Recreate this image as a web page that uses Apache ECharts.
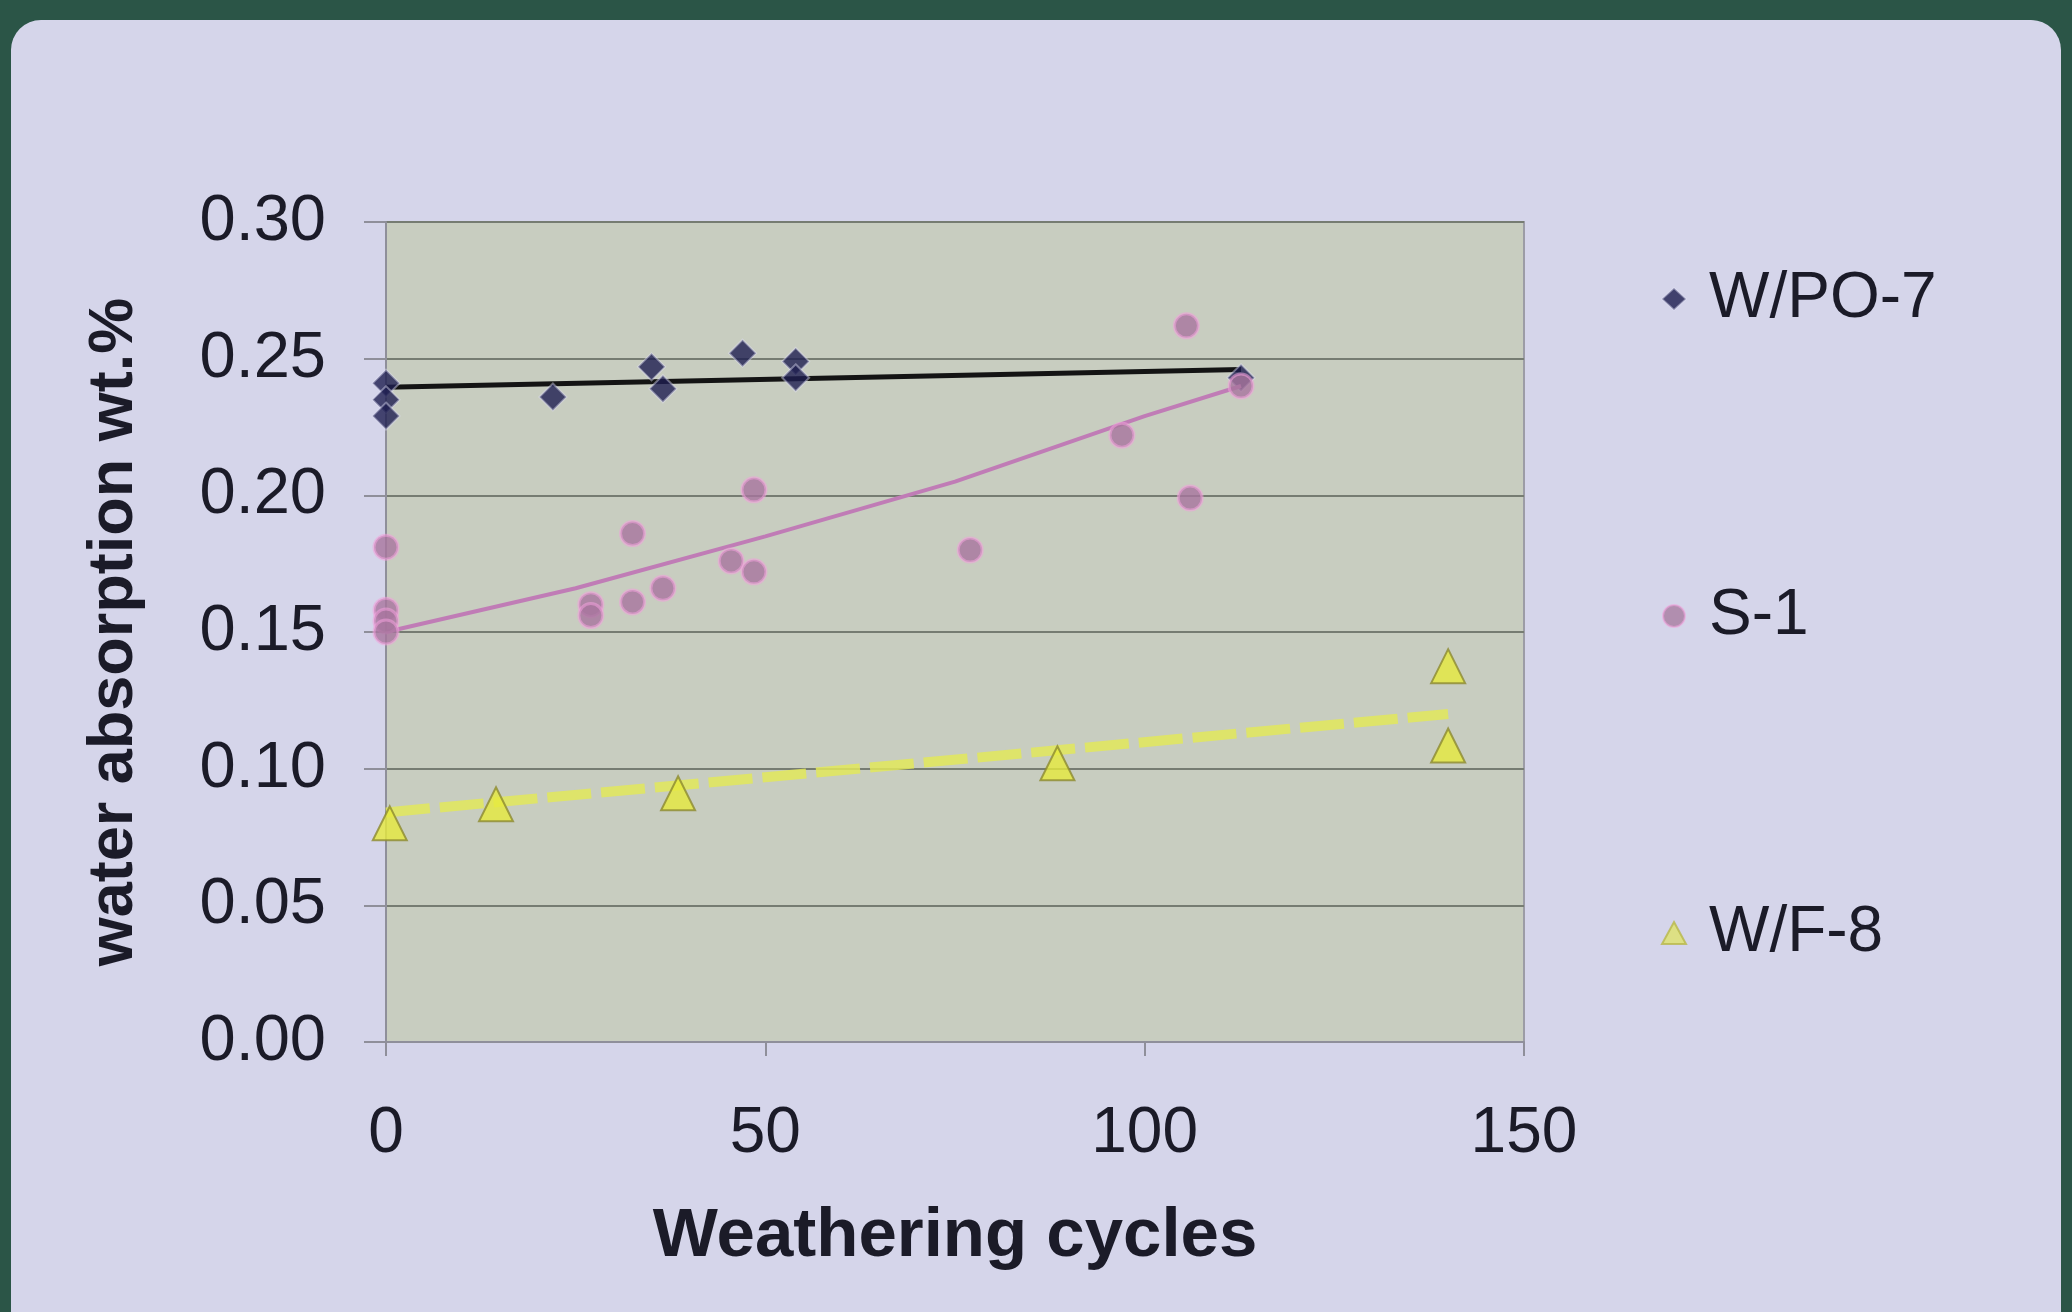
<!DOCTYPE html>
<html>
<head>
<meta charset="utf-8">
<script src="https://cdn.jsdelivr.net/npm/echarts@6/dist/echarts.min.js"></script>
<style>
  html, body { margin: 0; padding: 0; width: 2072px; height: 1312px; overflow: hidden; background: #2b5547; }
  #panel { position: absolute; left: 11px; top: 20px; width: 2050px; height: 1320px; background: #d5d5ea; border-radius: 30px 30px 0 0; }
  #chart { position: absolute; left: 0; top: 0; width: 2072px; height: 1312px; }
</style>
</head>
<body>
<div id="panel"></div>
<div id="chart"></div>
<script>
// Water absorption (wt.%) measured after a number of weathering cycles
const xTicks = [0, 50, 100, 150];
const yTicks = [0.00, 0.05, 0.10, 0.15, 0.20, 0.25, 0.30];

// W/PO-7 samples
const wpoCycles = [0, 0, 0, 22, 35, 36.5, 47, 54, 54, 112.7];
const wpoAbsorption = [0.241, 0.235, 0.229, 0.236, 0.247, 0.239, 0.252, 0.249, 0.243, 0.243];

// S-1 samples
const s1Cycles = [0, 0, 0, 0, 27, 27, 32.5, 32.5, 36.5, 45.5, 48.5, 48.5, 77, 97, 105.5, 106, 112.7];
const s1Absorption = [0.181, 0.158, 0.154, 0.150, 0.160, 0.156, 0.186, 0.161, 0.166, 0.176, 0.172, 0.202, 0.180, 0.222, 0.262, 0.199, 0.240];

// W/F-8 samples
const wf8Cycles = [0.5, 14.5, 38.5, 88.5, 140, 140];
const wf8Absorption = [0.080, 0.087, 0.091, 0.102, 0.1375, 0.1085];

// Trend lines
const wpoTrendCycles = [0, 112.7];
const wpoTrendValues = [0.2395, 0.246];
const s1TrendCycles = [0, 25, 50, 75, 100, 112.7];
const s1TrendValues = [0.150, 0.166, 0.185, 0.205, 0.229, 0.240];
const wf8TrendCycles = [0, 140];
const wf8TrendValues = [0.084, 0.120];

const pairs = (xs, ys) => xs.map((x, i) => [x, ys[i]]);

const chart = echarts.init(document.getElementById('chart'), null, { renderer: 'canvas' });

const textColor = '#1b1b28';
const tickFont = 'Liberation Sans, Arial, sans-serif';

chart.setOption({
  backgroundColor: 'transparent',
  animation: false,
  grid: {
    left: 386, right: 548, top: 222, bottom: 270,
    show: true,
    backgroundColor: '#c8cdc0',
    borderColor: '#9c9ca6',
    borderWidth: 2
  },
  legend: {
    orient: 'vertical',
    left: 1656,
    top: 262,
    itemGap: 253,
    itemWidth: 24,
    itemHeight: 22,
    data: [
      { name: 'W/PO-7', icon: 'diamond', itemStyle: { color: '#1c1c4e' } },
      { name: 'S-1', icon: 'circle', itemStyle: { color: '#a87ca0' } },
      { name: 'W/F-8', icon: 'triangle', itemStyle: { color: '#dfe26a', borderColor: '#b8b84a' } }
    ],
    textStyle: { fontFamily: tickFont, fontSize: 64, color: textColor, padding: [0, 0, 0, 18] }
  },
  xAxis: {
    type: 'value',
    min: 0, max: 150, interval: 50,
    name: 'Weathering cycles',
    nameLocation: 'middle',
    nameGap: 160,
    nameTextStyle: { fontFamily: tickFont, fontWeight: 'bold', fontSize: 69, color: textColor },
    axisLine: { show: true, onZero: false, lineStyle: { color: '#8f8f9a', width: 2 } },
    axisTick: { show: true, length: 14, lineStyle: { color: '#8f8f9a', width: 2 } },
    splitLine: { show: false },
    axisLabel: {
      margin: 60,
      fontFamily: tickFont, fontSize: 64, color: textColor,
      formatter: v => xTicks.includes(v) ? String(v) : ''
    }
  },
  yAxis: {
    type: 'value',
    min: 0, max: 0.30, interval: 0.05,
    name: 'water absorption wt.%',
    nameLocation: 'middle',
    nameGap: 240,
    nameTextStyle: { fontFamily: tickFont, fontWeight: 'bold', fontSize: 63, color: textColor },
    axisLine: { show: true, lineStyle: { color: '#8f8f9a', width: 2 } },
    axisTick: { show: true, length: 22, lineStyle: { color: '#8f8f9a', width: 2 } },
    splitLine: { show: true, lineStyle: { color: '#767c72', width: 2 } },
    axisLabel: {
      margin: 60,
      fontFamily: tickFont, fontSize: 65, color: textColor,
      formatter: v => yTicks.some(t => Math.abs(t - v) < 1e-9) ? v.toFixed(2) : ''
    }
  },
  series: [
    {
      name: 'W/PO-7 trend', type: 'line', showSymbol: false, silent: true, z: 3,
      data: pairs(wpoTrendCycles, wpoTrendValues),
      lineStyle: { color: '#141414', width: 5 }
    },
    {
      name: 'W/F-8 trend', type: 'line', showSymbol: false, silent: true, z: 3,
      data: pairs(wf8TrendCycles, wf8TrendValues),
      lineStyle: { color: '#e2e85a', width: 10, type: [44, 10], opacity: 0.85 }
    },
    {
      name: 'W/PO-7', type: 'scatter', symbol: 'diamond', symbolSize: 27, z: 4,
      data: pairs(wpoCycles, wpoAbsorption),
      itemStyle: { color: '#1e1e50', borderColor: 'rgba(225,225,245,0.55)', borderWidth: 2 }
    },
    {
      name: 'S-1 trend', type: 'line', showSymbol: false, silent: true, z: 5,
      data: pairs(s1TrendCycles, s1TrendValues),
      lineStyle: { color: '#c07cb6', width: 4 }
    },
    {
      name: 'S-1', type: 'scatter', symbol: 'circle', symbolSize: 24, z: 6,
      data: pairs(s1Cycles, s1Absorption),
      itemStyle: { color: '#a8749e', borderColor: 'rgba(240,160,220,0.7)', borderWidth: 3 }
    },
    {
      name: 'W/F-8', type: 'scatter', symbol: 'triangle', symbolSize: 34, z: 6,
      data: pairs(wf8Cycles, wf8Absorption),
      itemStyle: { color: '#e6ea3c', borderColor: '#8c8a30', borderWidth: 2 }
    }
  ]
});
</script>
</body>
</html>
